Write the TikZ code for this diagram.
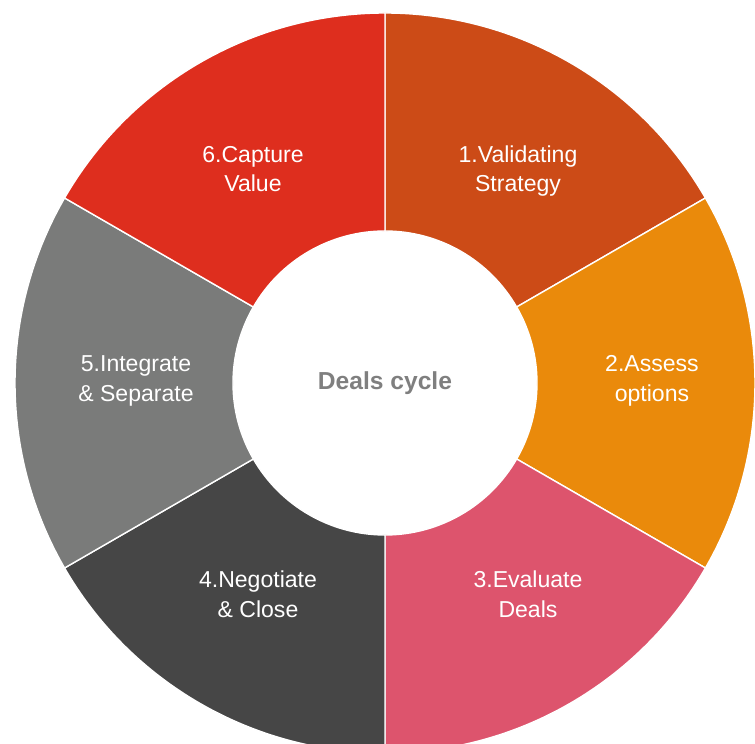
\documentclass[tikz,border=0pt]{standalone}
\usepackage{color}
\usepackage{fontspec}
\setmainfont{Liberation Sans}
\usepackage{tikz}
\definecolor{stageOne}{HTML}{CC4B17}
\definecolor{stageTwo}{HTML}{EA8A0B}
\definecolor{stageThree}{HTML}{DD546D}
\definecolor{stageFour}{HTML}{464646}
\definecolor{stageFive}{HTML}{7A7B7A}
\definecolor{stageSix}{HTML}{DE2E1E}
\definecolor{hubText}{HTML}{7F7F7F}
\tikzset{dealsFig/.style={line join=round},
         sector/.style={draw=white,line width=1pt},
         stageLabel/.style={text=white,align=center,inner sep=0pt,
                    font=\fontsize{16.4}{21}\selectfont},
         hubLabel/.style={text=hubText,font=\fontsize{17.5}{21}\selectfont\bfseries}}

\begin{document}
\begin{tikzpicture}[dealsFig]
			\useasboundingbox (-9.625,-9.025) rectangle (9.25,9.575);
			%RING
			\path[sector,fill=stageOne]   (90:3.8) arc[start angle=90,end angle=30,radius=3.8] -- (30:9.25) arc[start angle=30,end angle=90,radius=9.25] -- cycle;
			\path[sector,fill=stageTwo]   (30:3.8) arc[start angle=30,end angle=-30,radius=3.8] -- (-30:9.25) arc[start angle=-30,end angle=30,radius=9.25] -- cycle;
			\path[sector,fill=stageThree] (-30:3.8) arc[start angle=-30,end angle=-90,radius=3.8] -- (-90:9.25) arc[start angle=-90,end angle=-30,radius=9.25] -- cycle;
			\path[sector,fill=stageFour]  (-90:3.8) arc[start angle=-90,end angle=-150,radius=3.8] -- (-150:9.25) arc[start angle=-150,end angle=-90,radius=9.25] -- cycle;
			\path[sector,fill=stageFive]  (-150:3.8) arc[start angle=-150,end angle=-210,radius=3.8] -- (-210:9.25) arc[start angle=-210,end angle=-150,radius=9.25] -- cycle;
			\path[sector,fill=stageSix]   (150:3.8) arc[start angle=150,end angle=90,radius=3.8] -- (90:9.25) arc[start angle=90,end angle=150,radius=9.25] -- cycle;

			%STAGES
			\node [stageLabel] (sValidate)  at (3.325,5.3)   {1.Validating\\Strategy};
			\node [stageLabel] (sAssess)    at (6.675,0.05)  {2.Assess\\options};
			\node [stageLabel] (sEvaluate)  at (3.575,-5.28) {3.Evaluate\\Deals};
			\node [stageLabel] (sNegotiate) at (-3.175,-5.28) {4.Negotiate\\\& Close};
			\node [stageLabel] (sIntegrate) at (-6.225,0.05) {5.Integrate\\\& Separate};
			\node [stageLabel] (sCapture)   at (-3.3,5.35)   {6.Capture\\Value};

			%HUB
			\node [hubLabel] (cDeals) at (0,0) {Deals cycle};
		\end{tikzpicture}
\end{document}
